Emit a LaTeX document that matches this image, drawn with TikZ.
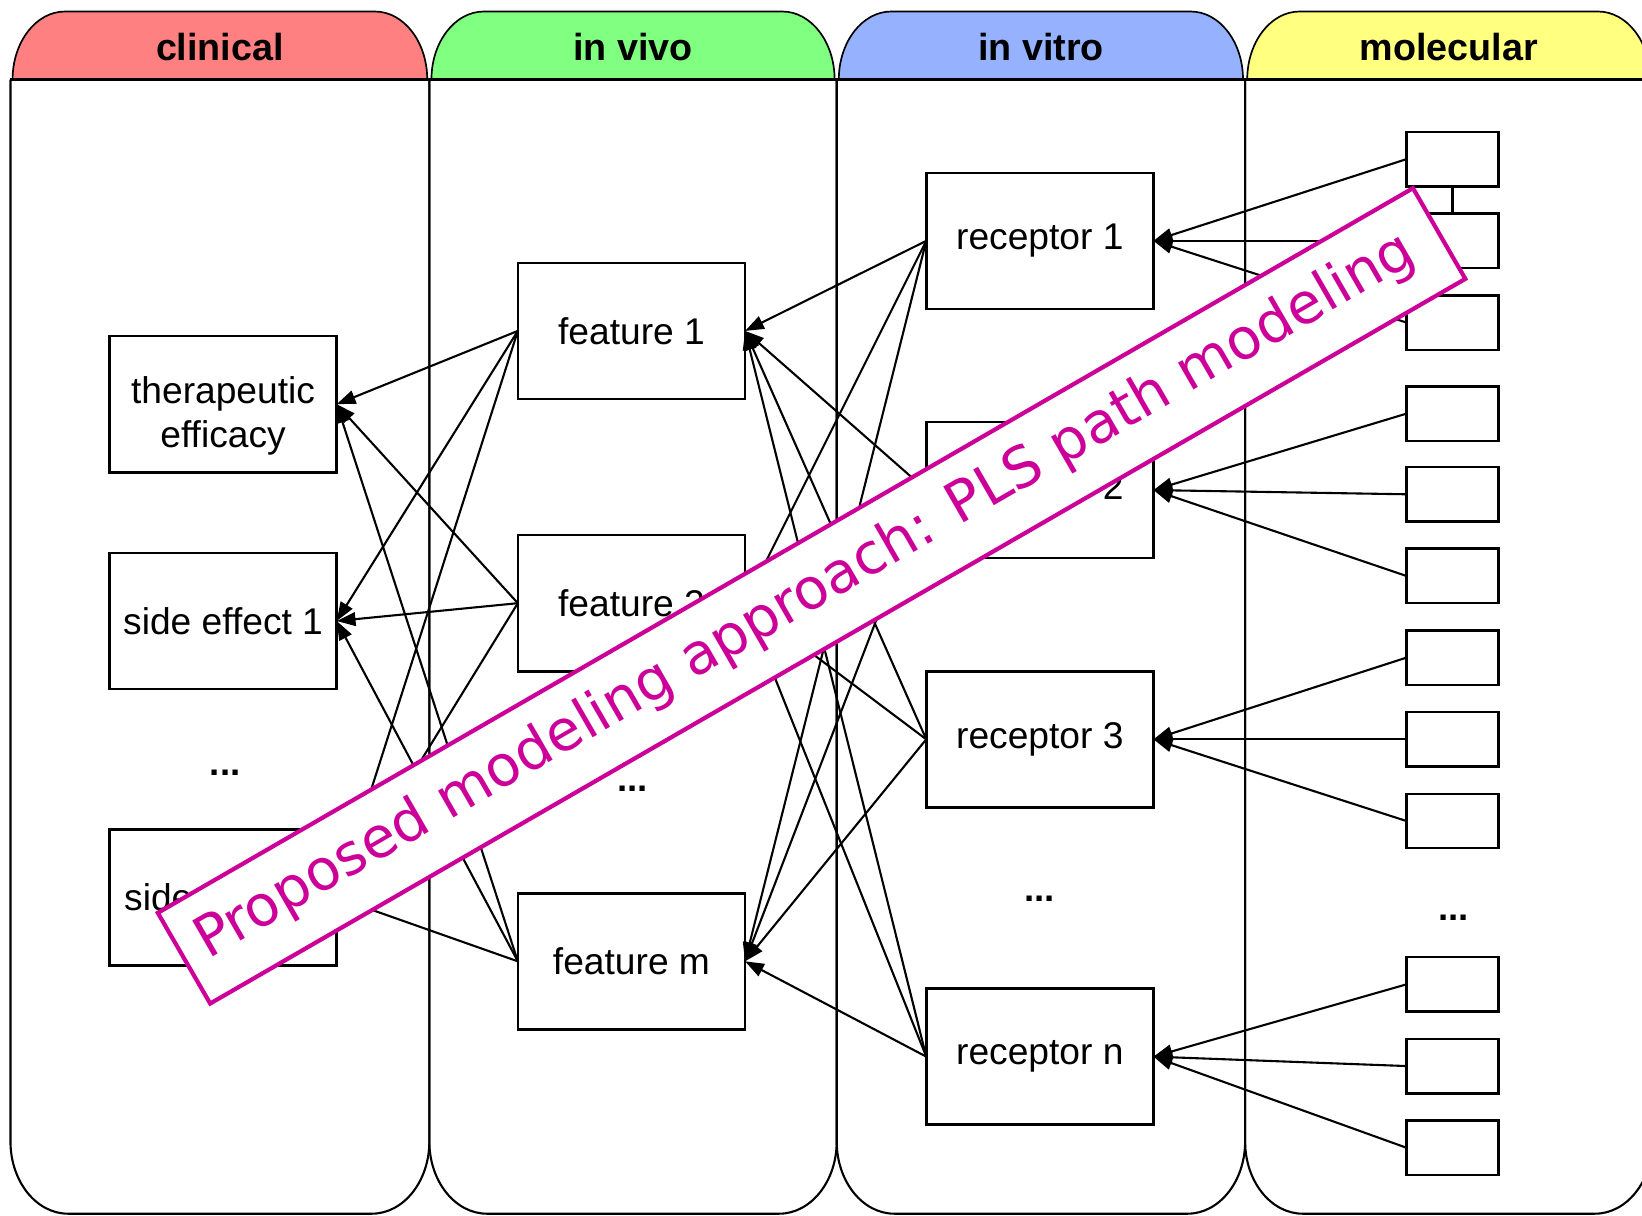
\documentclass[tikz,border=0pt]{standalone}
\usepackage{fontspec}
\setmainfont{Liberation Sans}
\newfontfamily\banfont{DejaVu Sans}
\usetikzlibrary{arrows.meta}
\definecolor{hclin}{RGB}{255,128,128}
\definecolor{hviv}{RGB}{128,255,128}
\definecolor{hvit}{RGB}{150,178,255}
\definecolor{hmol}{RGB}{255,255,128}
\definecolor{banmag}{RGB}{204,0,153}
\begin{document}
\begin{tikzpicture}[x=1pt,y=-1pt,
  box/.style={draw, line width=2.4pt, minimum width=217pt, minimum height=130pt, inner sep=0pt, outer sep=0pt, font=\fontsize{35.5}{42}\selectfont, align=center},
  boxtext/.style={font=\fontsize{35.5}{42}\selectfont, align=center, inner sep=0pt},
  mbox/.style={draw, line width=2.4pt, minimum width=88pt, minimum height=52pt, inner sep=0pt, outer sep=0pt},
  arr/.style={line width=2pt, -{Triangle[length=18pt,width=13pt]}},
  panel/.style={draw, line width=2pt},
  hdr/.style={draw, line width=1.6pt},
  hdrtext/.style={font=\bfseries\fontsize{36}{40}\selectfont},
  dots/.style={font=\bfseries\fontsize{35}{40}\selectfont}
]
\path[use as bounding box, clip] (0,0) rectangle (1568,1161);
\fill[white] (0,0) rectangle (1568,1161);

% panels
\foreach \xl/\xr/\col/\lab/\nm in {10/410/hclin/clinical/clin, 410/799/hviv/in vivo/viv, 799/1189/hvit/in vitro/vit, 1189/1578/hmol/molecular/mol}{
  \draw[panel] (\xl,76) -- (\xl,1090) arc[start angle=180,end angle=90,x radius=55,y radius=69]
     -- (\xr-55,1159) arc[start angle=90,end angle=0,x radius=55,y radius=69] -- (\xr,76);
  \draw[hdr, fill=\col] (\xl+2,76) arc[start angle=180,end angle=270,x radius=50,y radius=65]
     -- (\xr-52,11) arc[start angle=270,end angle=360,x radius=50,y radius=65] -- cycle;
  \node[hdrtext] (h\nm) at ({(\xl+\xr)/2},45) {\lab};
}
\draw[line width=3.5pt] (10,76) -- (1578,76);

% clinical
\node[box] (te) at (213,386) {};
\node[boxtext] (tetext) at (213,397) {therapeutic\\efficacy};
\node[box] (se1) at (213,593) {side effect 1};
\node[dots] (d1) at (215,738) {...};
\node[box] (sek) at (213,857) {side effect k};

% in vivo
\node[box] (f1) at (603,316) {feature 1};
\node[box] (f2) at (603,576) {feature 2};
\node[dots] (d2) at (604,753) {...};
\node[box] (fm) at (603,918) {feature m};

% in vitro
\node[box] (r1) at (993,230) {receptor 1};
\node[box] (r2) at (993,468) {receptor 2};
\node[box] (r3) at (993,706) {receptor 3};
\node[dots] (d3) at (993,858) {...};
\node[box] (rn) at (993,1009) {receptor n};

% molecular
\foreach \i/\y in {1/152,2/230,3/308,4/395,5/472,6/550,7/628,8/706,9/784,10/940,11/1018,12/1096}{
  \node[mbox] (m\i) at (1387,\y) {};
}
\node[dots] (d4) at (1388,876) {...};
\draw[line width=2pt] (m1.south) -- (m2.north);

% edges features -> clinical
\foreach \f in {f1,f2,fm}{
  \foreach \c in {te,se1,sek}{
    \draw[arr] (\f.west) -- (\c.east);
  }
}
% receptors -> features
\foreach \r in {r1,r2,r3,rn}{
  \foreach \f in {f1,f2,fm}{
    \draw[arr] (\r.west) -- (\f.east);
  }
}
% molecular -> receptors
\foreach \m/\r in {1/r1,2/r1,3/r1,4/r2,5/r2,6/r2,7/r3,8/r3,9/r3,10/rn,11/rn,12/rn}{
  \draw[arr] (m\m.west) -- (\r.east);
}

% banner
\node[draw=banmag, line width=4pt, fill=white, rotate=30, minimum width=1384pt, minimum height=100pt, inner sep=0pt] (banner) at (775,569) {};
\node[rotate=30, text=banmag, font=\banfont\fontsize{54}{60}\selectfont, inner sep=0pt] (bantext) at (769,570) {Proposed modeling approach: PLS path modeling};
\end{tikzpicture}
\end{document}
